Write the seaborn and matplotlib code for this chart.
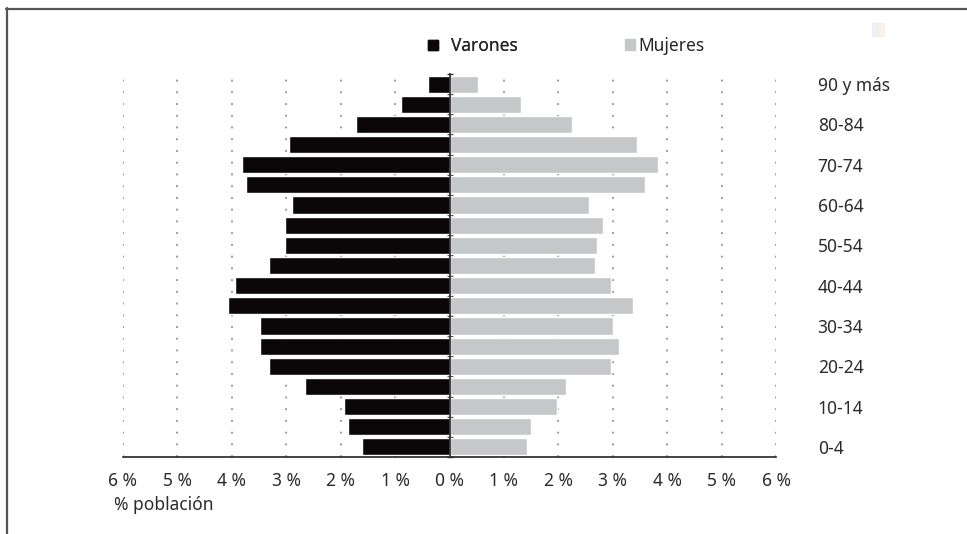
import pandas as pd
import numpy as np
import matplotlib
matplotlib.use("Agg")
import matplotlib.pyplot as plt
import matplotlib.patches as mpatches
from matplotlib.lines import Line2D
import seaborn as sns

# datos de la piramide (de 90 y mas a 0-4)
grupos = ["90 y más", "85-89", "80-84", "75-79", "70-74", "65-69", "60-64",
          "55-59", "50-54", "45-49", "40-44", "35-39", "30-34", "25-29",
          "20-24", "15-19", "10-14", "5-9", "0-4"]
varones = [0.39, 0.90, 1.71, 2.95, 3.81, 3.74, 2.89, 3.02, 3.02, 3.31,
           3.94, 4.07, 3.48, 3.48, 3.31, 2.65, 1.93, 1.86, 1.60]
mujeres = [0.53, 1.31, 2.26, 3.44, 3.83, 3.59, 2.56, 2.82, 2.71, 2.67,
           2.97, 3.37, 3.00, 3.11, 2.97, 2.15, 1.97, 1.49, 1.42]
ticks_x = [-6, -5, -4, -3, -2, -1, 0, 1, 2, 3, 4, 5, 6]

df = pd.DataFrame({"grupo": grupos, "Varones": varones, "Mujeres": mujeres})
df["Varones_neg"] = -df["Varones"]

sns.set_style("white")
plt.rcParams["font.family"] = ["Noto Sans", "DejaVu Sans"]

NEGRO = "#0b0709"
GRIS = "#c6c7c9"
TXT = "#2a2a2a"
FS = 12.5

W, H = 967, 534
fig = plt.figure(figsize=(W / 100, H / 100), dpi=100)
ax = fig.add_axes([123 / W, 1 - 457 / H, (776 - 123) / W, (457 - 74) / H])

sns.barplot(data=df, y="grupo", x="Varones_neg", order=grupos, color=NEGRO,
            width=0.85, orient="h", ax=ax, saturation=1)
sns.barplot(data=df, y="grupo", x="Mujeres", order=grupos, color=GRIS,
            width=0.85, orient="h", ax=ax, saturation=1)

ax.set_xlim(-6, 6)
ax.set_ylim(len(grupos) - 0.5, -0.5)
ax.set_xlabel("")
ax.set_ylabel("")

# eje x
ax.set_xticks(ticks_x)
ax.set_xticklabels([f"{abs(v)} %" for v in ticks_x], fontsize=FS, color=TXT)
ax.tick_params(axis="x", direction="out", length=4, width=1, color="#222222", pad=7)
ax.grid(axis="x", linestyle=(0, (1, 5.5)), color="#8f8f8f", linewidth=1.3)
ax.grid(axis="y", visible=False)
ax.set_axisbelow(True)

for s in ["top", "right"]:
    ax.spines[s].set_visible(False)
ax.spines["bottom"].set_color("#222222")
ax.spines["bottom"].set_linewidth(1.2)

# eje central en 0 con marcas
ax.spines["left"].set_position(("data", 0))
ax.spines["left"].set_color("#333333")
ax.spines["left"].set_linewidth(1.3)
ax.spines["left"].set_zorder(5)
ax.set_yticks(range(len(grupos)))
ax.set_yticks(np.arange(len(grupos) + 1) - 0.5, minor=True)
ax.yaxis.set_ticks_position("both")
ax.set_yticklabels([g if i % 2 == 0 else "" for i, g in enumerate(grupos)],
                   fontsize=FS, color=TXT)
ax.tick_params(axis="y", which="both", left=True, right=False, labelleft=False,
               labelright=True, direction="inout", length=4, width=1,
               color="#333333", pad=28)

# leyenda
leg1 = fig.legend(handles=[mpatches.Patch(color=NEGRO)], labels=["Varones"],
                  loc="center left", bbox_to_anchor=(428 / W, 1 - 46 / H),
                  frameon=False, fontsize=FS, handlelength=0.55, handleheight=0.55,
                  handletextpad=0.8, borderpad=0, borderaxespad=0)
fig.add_artist(leg1)
fig.legend(handles=[mpatches.Patch(color=GRIS)], labels=["Mujeres"],
           loc="center left", bbox_to_anchor=(625 / W, 1 - 46 / H),
           frameon=False, fontsize=FS, handlelength=0.6, handleheight=0.6,
           handletextpad=0.15, borderpad=0, borderaxespad=0)

fig.text(114 / W, 1 - 505 / H, "% población", fontsize=FS, color=TXT,
         ha="left", va="center")

# marco de la figura
fig.add_artist(Line2D([6 / W, 1], [1 - 8.5 / H, 1 - 8.5 / H], color="#555555",
                      linewidth=1.6, transform=fig.transFigure))
fig.add_artist(Line2D([6.5 / W, 6.5 / W], [1 - 8 / H, 0], color="#555555",
                      linewidth=1.6, transform=fig.transFigure))

# icono tenue arriba a la derecha
fig.add_artist(mpatches.Rectangle((872 / W, 1 - 36 / H), 5 / W, 13 / H,
                                  color="#e2e2f2", alpha=0.5, transform=fig.transFigure))
fig.add_artist(mpatches.Rectangle((878 / W, 1 - 36 / H), 6 / W, 13 / H,
                                  color="#f2ebda", alpha=0.5, transform=fig.transFigure))

fig.savefig("out.png", dpi=100)
